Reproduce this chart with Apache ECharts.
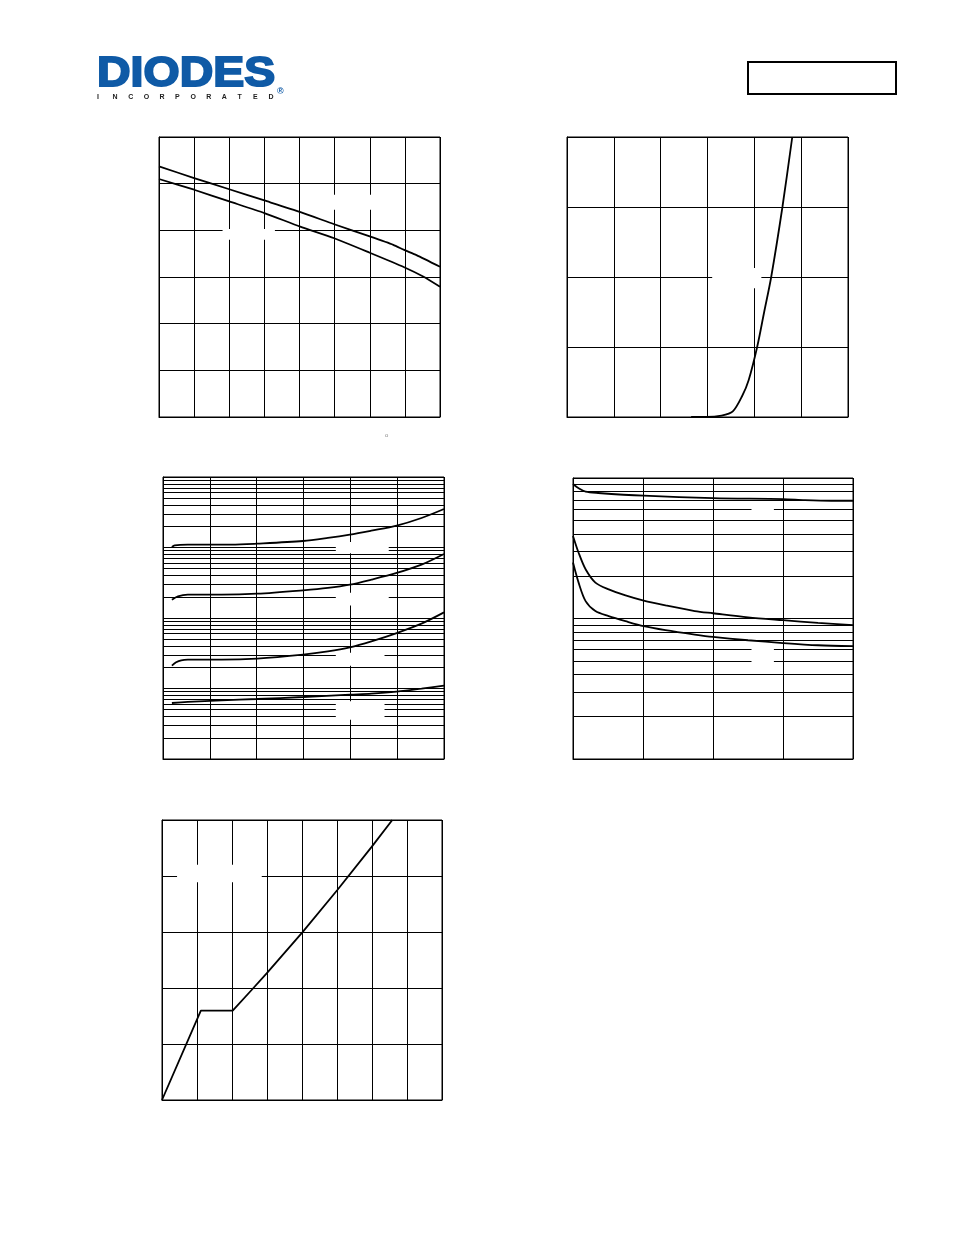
<!DOCTYPE html>
<html>
<head>
<meta charset="utf-8">
<script src="https://cdn.jsdelivr.net/npm/echarts@6/dist/echarts.min.js"></script>
<style>html,body{margin:0;padding:0;background:#fff;}#c{width:954px;height:1235px;}</style>
</head>
<body>
<div id="c"></div>
<script>
// ---- Figure 1 (two declining curves, linear axes 0..8 x 0..6)
const fig1UpperX = [0, 1, 2, 3, 4.03, 4.99, 6.0, 6.67, 6.98, 7.33, 8];
const fig1UpperY = [5.37, 5.12, 4.88, 4.64, 4.39, 4.13, 3.87, 3.69, 3.58, 3.47, 3.22];
const fig1LowerX = [0, 1, 2, 3, 4.02, 4.99, 6.0, 6.98, 7.52, 8];
const fig1LowerY = [5.10, 4.87, 4.62, 4.37, 4.08, 3.83, 3.52, 3.21, 3.01, 2.79];
// ---- Figure 2 (exponential rise, 0..6 x 0..4)
const fig2X = [2.65, 2.97, 3.30, 3.54, 3.74, 3.88, 4.06, 4.21, 4.36, 4.60, 4.81];
const fig2Y = [0, 0, 0.02, 0.08, 0.30, 0.53, 1.0, 1.5, 2.0, 3.0, 4.0];
// ---- Figure 3 (four curves, log y 1..10000)
const fig3AX = [0.19, 0.25, 0.53, 1.46, 2.01, 2.99, 3.52, 3.99, 4.45, 4.99, 5.52, 6.0];
const fig3AY = [1016, 1074, 1097, 1097, 1133, 1236, 1365, 1521, 1733, 2042, 2620, 3516];
const fig3BX = [0.19, 0.32, 0.53, 1.25, 2.01, 2.99, 3.52, 3.99, 4.45, 4.99, 5.52, 6.0];
const fig3BY = [182, 203, 214, 214, 221, 247, 267, 297, 350, 435, 571, 809];
const fig3CX = [0.19, 0.28, 0.39, 0.53, 1.25, 2.01, 2.99, 3.52, 3.99, 4.45, 4.99, 5.52, 6.0];
const fig3CY = [21.1, 23.5, 25.1, 25.6, 25.6, 26.5, 30.2, 33.6, 38.4, 46.7, 61.2, 83.1, 120];
const fig3DX = [0.19, 0.53, 1.25, 2.01, 2.99, 3.99, 4.45, 4.99, 5.52, 6.0];
const fig3DY = [6.23, 6.44, 6.80, 7.10, 7.57, 8.18, 8.45, 9.02, 9.95, 11.0];
const fig3GridLines = [1,2,3,4,5,6,7,8,9,10,20,30,40,50,60,70,80,90,100,200,300,400,500,600,700,800,900,1000,2000,3000,4000,5000,6000,7000,8000,9000,10000];
// ---- Figure 4 (three decaying curves, log y 1..100)
const fig4TopX = [0, 0.08, 0.18, 0.36, 1.01, 2.0, 3.0, 3.31, 3.69, 4];
const fig4TopY = [90.6, 84.4, 79.9, 78.2, 74.8, 71.9, 70.8, 69.6, 68.9, 68.9];
const fig4MidX = [0, 0.08, 0.18, 0.32, 0.51, 0.75, 1.01, 1.32, 1.74, 2.0, 2.5, 3.0, 3.5, 4];
const fig4MidY = [38.7, 29.4, 22.4, 18.0, 16.1, 14.6, 13.4, 12.4, 11.3, 10.9, 10.2, 9.73, 9.31, 8.97];
const fig4BotX = [0, 0.08, 0.18, 0.32, 0.51, 0.75, 1.01, 1.32, 1.74, 2.0, 2.5, 3.0, 3.5, 4];
const fig4BotY = [25.0, 18.0, 13.3, 11.3, 10.4, 9.57, 8.82, 8.26, 7.69, 7.40, 7.00, 6.69, 6.45, 6.35];
const fig4GridLines = [1,2,3,4,5,6,7,8,9,10,20,30,40,50,60,70,80,90,100];
// ---- Figure 5 (gate-charge like curve, 0..8 x 0..5)
const fig5X = [0, 1.11, 2.02, 2.56, 2.99, 4.01, 5.01, 5.99, 6.58];
const fig5Y = [0, 1.595, 1.595, 1.964, 2.262, 2.994, 3.75, 4.52, 5.0];
// ---- blank label boxes (data coords) that interrupt the grid
const fig1Blanks = [[[1.81, 3.80], [3.30, 4.03]], [[4.91, 4.44], [6.08, 4.76]]];
const fig2Blanks = [[[3.10, 1.84], [4.15, 2.13]]];
const fig3Blanks = [[[3.69, 830], [4.82, 1200]], [[3.69, 150], [4.82, 229]], [[3.69, 21], [4.73, 32.2]], [[3.69, 3.6], [4.73, 6.6]]];
const fig4Blanks = [[[2.55, 52], [2.87, 67]], [[2.55, 4.3], [2.87, 6.6]]];
const fig5Blanks = [[[0.43, 3.89], [2.85, 4.2]]];
const logoText = 'DIODES';
const logoSub = 'INCORPORATED';

const zip = (xs, ys) => xs.map((x, i) => [x, ys[i]]);
const BLACK = '#000';
const LOGO_BLUE = '#0f5aa6';

const grids = [
  {left: 159, top: 137, width: 281, height: 280},
  {left: 567, top: 137, width: 281, height: 280},
  {left: 163, top: 477, width: 281, height: 282},
  {left: 573, top: 478, width: 280, height: 281},
  {left: 162, top: 820, width: 280, height: 280}
].map(g => Object.assign({show: true, borderColor: BLACK, borderWidth: 1, backgroundColor: 'transparent'}, g));

function xAx(gi, max) {
  return {gridIndex: gi, type: 'value', min: 0, max: max, interval: 1,
    axisLabel: {show: false}, axisTick: {show: false},
    axisLine: {show: true, lineStyle: {color: BLACK, width: 1}},
    splitLine: {show: true, lineStyle: {color: BLACK, width: 1}}};
}
function yLin(gi, max) {
  return {gridIndex: gi, type: 'value', min: 0, max: max, interval: 1,
    axisLabel: {show: false}, axisTick: {show: false},
    axisLine: {show: true, lineStyle: {color: BLACK, width: 1}},
    splitLine: {show: true, lineStyle: {color: BLACK, width: 1}}};
}
function yLog(gi, max) {
  return {gridIndex: gi, type: 'log', logBase: 10, min: 1, max: max,
    axisLabel: {show: false}, axisTick: {show: false},
    axisLine: {show: true, lineStyle: {color: BLACK, width: 1}},
    splitLine: {show: false}};
}
function curve(gi, xs, ys, smooth) {
  return {type: 'line', xAxisIndex: gi, yAxisIndex: gi, data: zip(xs, ys),
    showSymbol: false, symbol: 'none', smooth: smooth, z: 10, silent: true,
    lineStyle: {color: BLACK, width: 1.8}, animation: false};
}
function gridLines(gi, vals) {
  return {type: 'line', xAxisIndex: gi, yAxisIndex: gi, data: [], silent: true, animation: false,
    markLine: {silent: true, symbol: ['none', 'none'], z: 4, animation: false,
      label: {show: false}, lineStyle: {color: BLACK, width: 1, type: 'solid'},
      emphasis: {disabled: true},
      data: vals.map(v => ({yAxis: v}))}};
}
function blanks(gi, boxes) {
  return {type: 'line', xAxisIndex: gi, yAxisIndex: gi, data: [], silent: true, animation: false,
    markArea: {silent: true, z: 6, animation: false, itemStyle: {color: '#fff', borderWidth: 0},
      label: {show: false}, emphasis: {disabled: true},
      data: boxes.map(b => [{coord: b[0]}, {coord: b[1]}])}};
}

const graphics = [];
graphics.push({type: 'text', left: 96, top: 52, scaleX: 1.08,
  style: {text: logoText, fill: LOGO_BLUE, stroke: LOGO_BLUE, lineWidth: 2,
    font: '900 43px "Liberation Sans", Arial, sans-serif'}});
for (let i = 0; i < logoSub.length; i++) {
  graphics.push({type: 'text', x: 97 + i * 15.6, y: 94,
    style: {text: logoSub[i], fill: '#222', font: 'bold 7px "Liberation Sans", Arial, sans-serif'}});
}
graphics.push({type: 'text', x: 277, y: 87, style: {text: '\u00AE', fill: LOGO_BLUE, font: 'bold 9px "Liberation Sans", Arial, sans-serif'}});
graphics.push({type: 'rect', shape: {x: 748, y: 62, width: 148, height: 32},
  style: {fill: 'none', stroke: BLACK, lineWidth: 2}});
graphics.push({type: 'text', x: 385, y: 432, style: {text: 'o', fill: '#888', font: '6px "Liberation Sans", Arial, sans-serif'}});

const option = {
  animation: false,
  backgroundColor: '#fff',
  grid: grids,
  xAxis: [xAx(0, 8), xAx(1, 6), xAx(2, 6), xAx(3, 4), xAx(4, 8)],
  yAxis: [yLin(0, 6), yLin(1, 4), yLog(2, 10000), yLog(3, 100), yLin(4, 5)],
  graphic: graphics,
  series: [
    gridLines(2, fig3GridLines),
    gridLines(3, fig4GridLines),
    blanks(0, fig1Blanks),
    blanks(1, fig2Blanks),
    blanks(2, fig3Blanks),
    blanks(3, fig4Blanks),
    blanks(4, fig5Blanks),
    curve(0, fig1UpperX, fig1UpperY, 0.2),
    curve(0, fig1LowerX, fig1LowerY, 0.2),
    curve(1, fig2X, fig2Y, 0.3),
    curve(2, fig3AX, fig3AY, 0.3),
    curve(2, fig3BX, fig3BY, 0.3),
    curve(2, fig3CX, fig3CY, 0.3),
    curve(2, fig3DX, fig3DY, 0.3),
    curve(3, fig4TopX, fig4TopY, 0.3),
    curve(3, fig4MidX, fig4MidY, 0.3),
    curve(3, fig4BotX, fig4BotY, 0.3),
    curve(4, fig5X, fig5Y, false)
  ]
};
const chart = echarts.init(document.getElementById('c'), null, {renderer: 'canvas'});
chart.setOption(option);
</script>
</body>
</html>
